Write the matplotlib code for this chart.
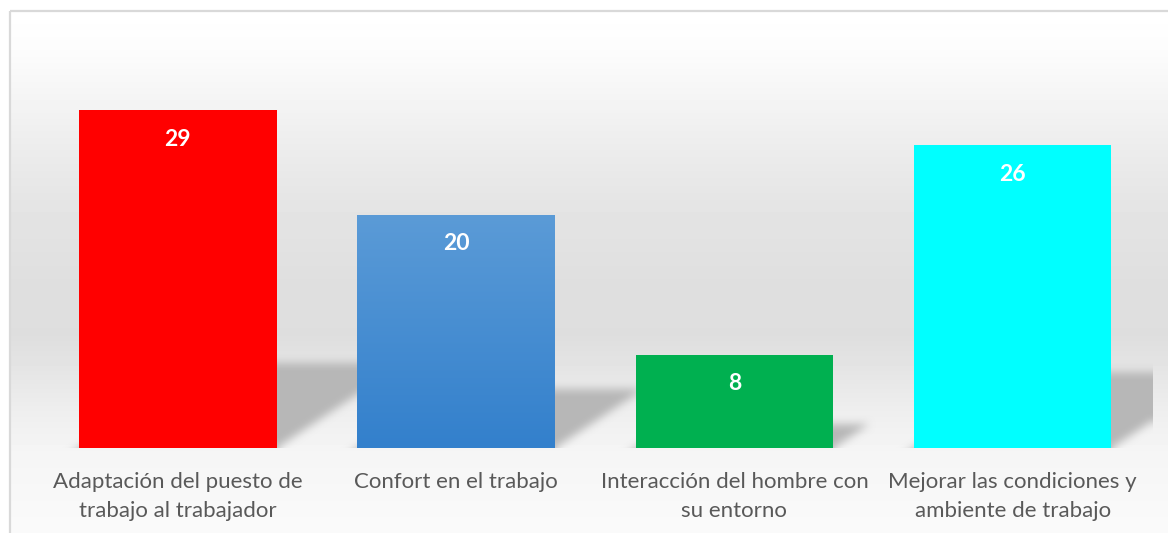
import numpy as np
import matplotlib
matplotlib.use("Agg")
import matplotlib.pyplot as plt
import matplotlib.patches as patches

categories = ["Adaptación del puesto de\ntrabajo al trabajador",
              "Confort en el trabajo",
              "Interacción del hombre con\nsu entorno",
              "Mejorar las condiciones y\nambiente de trabajo"]
values = [29, 20, 8, 26]
colors = ["#ff0000", "#4a8fd3", "#00b050", "#00ffff"]

W, H = 1168, 533
fig = plt.figure(figsize=(W / 100, H / 100), dpi=100)
fig.patch.set_facecolor("white")

# background panel with vertical grey gradient
bg = fig.add_axes([0, 0, 1, 1])
bg.set_xlim(0, W)
bg.set_ylim(H, 0)
bg.axis("off")
stops_y = [10, 50, 100, 150, 200, 280, 335, 370, 410, 450, 533]
stops_v = [255, 252, 244, 236, 229, 223, 222, 229, 238, 245, 250]
rows = np.interp(np.arange(11, H), stops_y, stops_v) / 255.0
grad = np.repeat(rows[:, None], 2, axis=1)
bg.imshow(grad, cmap="gray", vmin=0, vmax=1, extent=(10, W, H, 11), aspect="auto")
bg.add_patch(patches.Rectangle((9.5, 10.5), W, H, fill=False, edgecolor="#d9d9d9", lw=1.6))

# main axes
px_unit = 11.66
left, right = 38.7, 1151.8
bottom_px, top_px = 448, 30
ax = fig.add_axes([left / W, (H - bottom_px) / H, (right - left) / W, (bottom_px - top_px) / H])
ax.patch.set_alpha(0)
ymax = (bottom_px - top_px) / px_unit
ax.set_xlim(-0.5, len(values) - 0.5)
ax.set_ylim(0, ymax)
for s in ax.spines.values():
    s.set_visible(False)
ax.tick_params(left=False, bottom=False, labelleft=False)

x = np.arange(len(values))
width = 0.71


def box_blur(a, r):
    k = 2 * r + 1
    p = np.pad(a, r, mode="edge")
    c = np.cumsum(p, axis=0)
    c = np.vstack([np.zeros((1, c.shape[1])), c])
    a = (c[k:] - c[:-k]) / k
    c = np.cumsum(a, axis=1)
    c = np.hstack([np.zeros((c.shape[0], 1)), c])
    return (c[:, k:] - c[:, :-k]) / k


# soft cast shadows to the right of each bar
nx, ny = int(right - left), int(bottom_px - top_px) + 20
gx = np.linspace(-0.5, len(values) - 0.5, nx)
gy = np.linspace(-20 / px_unit, ymax, ny)
XX, YY = np.meshgrid(gx, gy)
mask = np.zeros_like(XX)
shear = 1.5 * px_unit / ((right - left) / len(values))
for xi, v in zip(x, values):
    hs = 0.25 * v
    inside = (YY <= hs) & (XX >= xi - width / 2 + shear * YY) & (XX <= xi + width / 2 + shear * np.clip(YY, 0, None))
    mask[inside] = 1.0
mask = box_blur(box_blur(mask, 5), 4)
shadow = np.zeros((ny, nx, 4))
shadow[..., :3] = 0.72
shadow[..., 3] = mask
ax.imshow(shadow, origin="lower", extent=(gx[0], gx[-1], gy[0], gy[-1]), aspect="auto",
          zorder=1, interpolation="bilinear")

bars = ax.bar(x, values, width=width, color=colors, zorder=2)

# blue bar with vertical gradient
b = bars[1]
b.set_facecolor("none")
g = np.linspace(0, 1, 100)[:, None]
top_c = np.array([0x5b, 0x9b, 0xd7]) / 255
bot_c = np.array([0x33, 0x80, 0xcc]) / 255
img = (bot_c[None, None, :] * (1 - g[..., None]) + top_c[None, None, :] * g[..., None])
img = np.repeat(img, 2, axis=1)
im = ax.imshow(img, origin="lower", aspect="auto", zorder=2,
               extent=(b.get_x(), b.get_x() + b.get_width(), 0, b.get_height()))
im.set_clip_path(b)
ax.set_xlim(-0.5, len(values) - 0.5)
ax.set_ylim(0, ymax)

for xi, v in zip(x, values):
    ax.annotate(str(v), xy=(xi, v), xytext=(0, -21), textcoords="offset points",
                ha="center", va="center", color="white", fontsize=16.5, fontweight="bold",
                family="Lato", zorder=3)

ax.set_xticks(x)
ax.set_xticklabels(categories, fontsize=16, color="#595959", family="Lato", linespacing=1.52)
ax.tick_params(axis="x", pad=14)

fig.savefig("out.png", dpi=100)
